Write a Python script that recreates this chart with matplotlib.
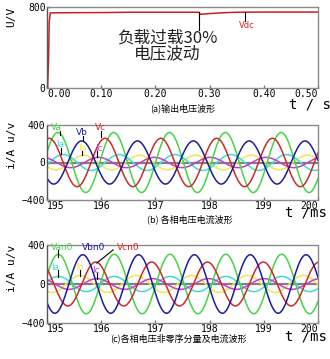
import numpy as np
import matplotlib.pyplot as plt

plt.rcParams['font.family'] = ['Noto Sans CJK SC', 'DejaVu Sans']

# (a) Vdc output voltage
vdc_t = [0.0, 0.001, 0.003, 0.004, 0.006, 0.05, 0.10, 0.15, 0.20, 0.25, 0.280, 0.283, 0.30, 0.32, 0.35, 0.40, 0.45, 0.50]
vdc_v = [0, 0, 300, 650, 742, 744, 745, 748, 748, 748, 748, 728, 735, 742, 748, 750, 750, 750]

# (b) phase voltages / currents: amplitude, time of first peak (ms)
period_ms = 1.03
b_names = ['Va', 'Vb', 'Vc', 'Ia', 'Ib', 'Ic']
b_amp = [320, 230, 258, 85, 78, 55]
b_peak = [195.20, 195.64, 195.04, 195.30, 195.68, 195.95]

# (c) non zero-sequence voltages / currents
c_names = ['Van0', 'Vbn0', 'Vcn0', 'Ia', 'Ib', 'Ic']
c_amp = [305, 300, 225, 78, 88, 55]
c_peak = [195.21, 195.66, 195.90, 195.21, 195.61, 195.92]

colors = ['#44d444', '#1c1c9c', '#cc2a2a', '#3cdcdc', '#f2e64a', '#c63cc6']
draw_order = [4, 3, 5, 0, 2, 1]

mono = 'DejaVu Sans Mono'

fig = plt.figure(figsize=(3.3, 3.59), dpi=100)
L, R = 47 / 330, 318 / 330
ax_a = fig.add_axes([L, 1 - 88 / 359, R - L, 81 / 359])
ax_b = fig.add_axes([L, 1 - 200 / 359, R - L, 75 / 359])
ax_c = fig.add_axes([L, 1 - 323 / 359, R - L, 78 / 359])

def style(ax):
    for s in ax.spines.values():
        s.set_color('#8a8a8a')
        s.set_linewidth(1.0)
    ax.spines['left'].set_color('#555555')
    ax.tick_params(direction='in', length=2, width=1, color='#777777', pad=1, labelsize=7)
    for lab in ax.get_xticklabels() + ax.get_yticklabels():
        lab.set_family(mono)
    xl = ax.get_xticklabels()
    xl[0].set_ha('left')
    xl[-1].set_ha('right')

# ---- (a)
ax_a.plot(vdc_t, vdc_v, color='#cc1f1f', lw=1.1)
ax_a.set_xlim(0, 0.5)
ax_a.set_ylim(0, 800)
ax_a.set_xticks([0, 0.1, 0.2, 0.3, 0.4, 0.5])
ax_a.set_xticklabels(['0.00', '0.10', '0.20', '0.30', '0.40', '0.50'])
ax_a.set_yticks([0, 800])
style(ax_a)
ax_a.plot([0.281, 0.281], [573, 748], color='k', lw=0.8)
ax_a.plot([0.365, 0.365], [660, 750], color='k', lw=0.8)
ax_a.text(0.368, 615, 'Vdc', color='#dd2222', fontsize=6, family='DejaVu Sans', ha='center', va='center')
ax_a.text(0.222, 495, '负载过载30%', fontsize=12, fontweight='light', ha='center', va='center', color='#222222')
ax_a.text(0.222, 340, '电压波动', fontsize=12, fontweight='light', ha='center', va='center', color='#222222')
fig.text(0.035, 1 - 17 / 359, 'U/V', rotation=90, fontsize=8, family=mono, ha='center', va='center')
fig.text(0.94, 1 - 105 / 359, 't / s', fontsize=10, family=mono, ha='center', va='center')
fig.text(0.555, 1 - 108 / 359, '(a)输出电压波形', fontsize=6.5, ha='center', va='center')

# ---- (b) and (c)
t = np.linspace(195, 200, 1200)

def waves(ax, amps, peaks):
    ax.axhline(0, color='#808080', lw=1.6, zorder=1)
    for i in draw_order:
        y = amps[i] * np.cos(2 * np.pi * (t - peaks[i]) / period_ms)
        ax.plot(t, y, color=colors[i], lw=1.1, zorder=2)
    ax.set_xlim(195, 200)
    ax.set_ylim(-400, 400)
    ax.set_xticks([195, 196, 197, 198, 199, 200])
    ax.set_yticks([-400, 0, 400])
    style(ax)

def label(ax, txt, c, x, y, px=None, py=None):
    ax.text(x, y, txt, color=c, fontsize=6.5, family='DejaVu Sans', ha='center', va='center', zorder=4)
    if px is not None:
        ax.plot(px, py, color='k', lw=0.8, zorder=3)

waves(ax_b, b_amp, b_peak)
label(ax_b, 'Va', colors[0], 195.18, 370, [195.24, 195.24], [335, 290])
label(ax_b, 'Vb', colors[1], 195.64, 320, [195.66, 195.66], [285, 235])
label(ax_b, 'Vc', colors[2], 195.98, 368, [196.0, 196.0], [335, 270])
label(ax_b, 'Ia', colors[3], 195.25, 190, [195.26, 195.26], [160, 95])
label(ax_b, 'Ib', colors[4], 195.65, 150, [195.64, 195.64], [125, 75])
label(ax_b, 'Ic', colors[5], 195.95, 145, [195.92, 195.92], [120, 55])
fig.text(0.035, 1 - 145 / 359, 'i/A u/v', rotation=90, fontsize=8, family=mono, ha='center', va='center')
fig.text(0.927, 1 - 213 / 359, 't /ms', fontsize=10, family=mono, ha='center', va='center')
fig.text(0.575, 1 - 219 / 359, '(b) 各相电压电流波形', fontsize=6.5, ha='center', va='center')

waves(ax_c, c_amp, c_peak)
label(ax_c, 'Van0', colors[0], 195.28, 375, [195.21, 195.21], [345, 275])
label(ax_c, 'Vbn0', colors[1], 195.86, 375)
label(ax_c, 'Vcn0', colors[2], 196.49, 375, [196.22, 195.92], [350, 215])
label(ax_c, 'Ia', colors[3], 195.15, 165, [195.20, 195.20], [140, 72])
label(ax_c, 'Ib', colors[4], 195.60, 165, [195.61, 195.61], [140, 85])
label(ax_c, 'Ic', colors[5], 195.90, 140, [195.92, 195.92], [113, 55])
fig.text(0.035, 1 - 268 / 359, 'i/A u/v', rotation=90, fontsize=8, family=mono, ha='center', va='center')
fig.text(0.927, 1 - 336 / 359, 't /ms', fontsize=10, family=mono, ha='center', va='center')
fig.text(0.54, 1 - 338 / 359, '(c)各相电压非零序分量及电流波形', fontsize=6.5, ha='center', va='center')

fig.savefig('out.png', dpi=100)
